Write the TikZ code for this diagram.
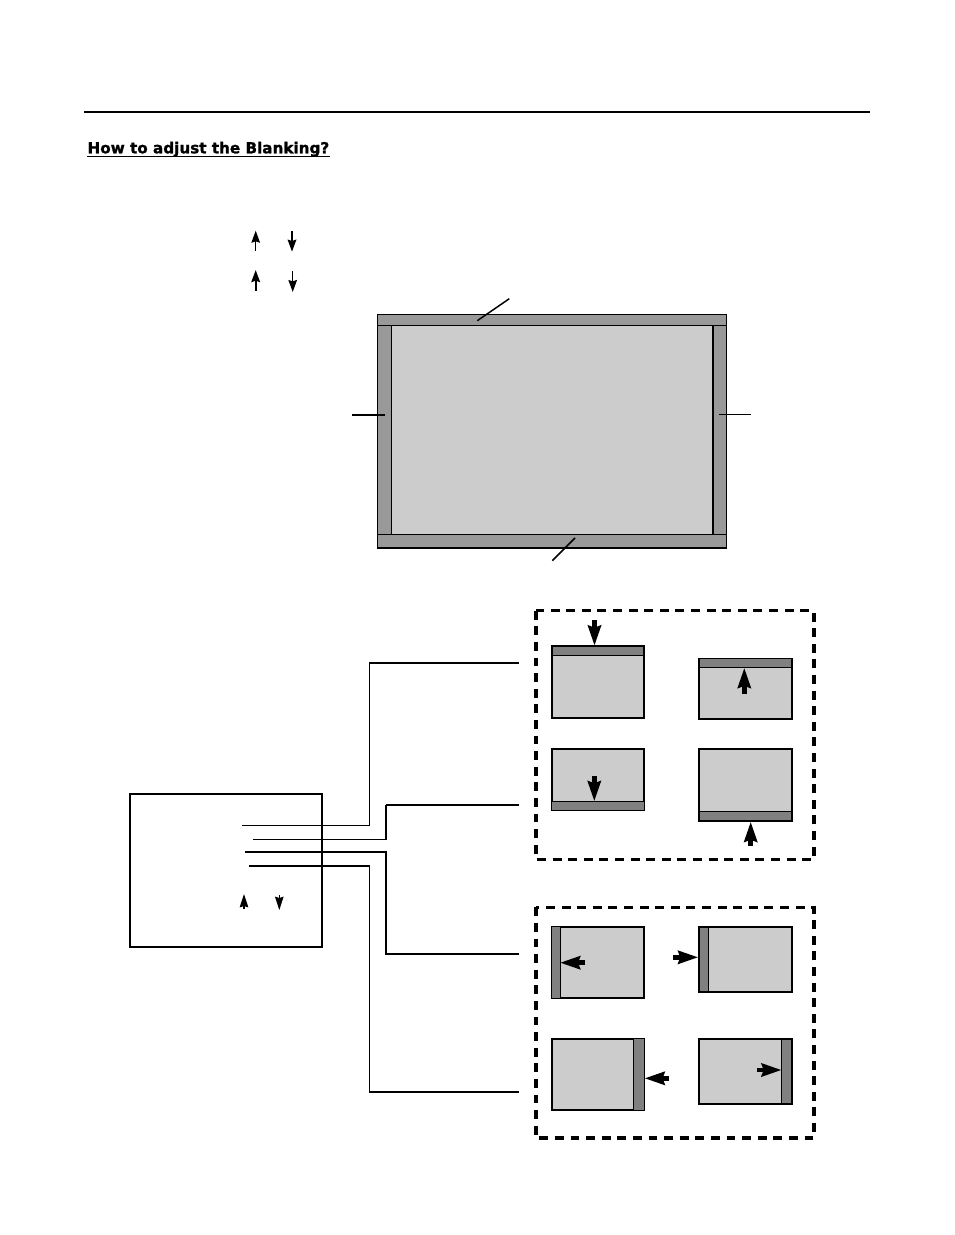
\documentclass[tikz,border=0pt]{standalone}
\usepackage{fontspec}
\usetikzlibrary{arrows.meta}
\newfontfamily\titlefont{DejaVu Sans}[BoldFeatures={FakeBold=1.3}]
\definecolor{screengray}{gray}{0.80}
\definecolor{edgegray}{gray}{0.60}
\definecolor{bargray}{gray}{0.50}
\tikzset{
  screen/.style={fill=screengray,draw=black,line width=1.25pt},
  heavy/.style={line width=1.7pt},
  bar/.style={fill=bargray,draw=black,line width=1.1pt},
  edgebar/.style={fill=edgegray,draw=black,line width=1.1pt},
  leader/.style={draw=black,line width=1.1pt},
  wire/.style={draw=black,line width=1.1pt},
  thickwire/.style={draw=black,line width=1.6pt},
  groupbox/.style={draw=black,line width=2.4pt,dash pattern=on 6.7pt off 5pt},
  blockarrow/.style={-{Stealth[length=15pt,width=9.6pt,inset=1.5pt]},line width=3.4pt},
  keyarrow/.style={-{Stealth[length=9pt,width=6.4pt,inset=1pt]}},
  menuarrow/.style={-{Stealth[length=10pt,width=6.4pt,inset=1pt]},line width=1pt}
}
\begin{document}
\begin{tikzpicture}[x=0.75pt,y=-0.75pt]
\useasboundingbox (0,0) rectangle (954,1235);
% heading
  \draw[line width=1.6pt] (84,112) -- (870,112);
  \node[anchor=base west,inner sep=0pt,font=\titlefont\bfseries\fontsize{11.4}{13}\selectfont] (title) at (87.3,153.3) {How to adjust the Blanking?};
  \draw[line width=1pt] ([yshift=-2.2pt]title.base west) -- ([yshift=-2.2pt]title.base east);
% key arrows
  \draw[keyarrow,line width=1pt] (255.7,250.7) -- (255.7,230.7);
  \draw[keyarrow,line width=1.5pt] (292,231) -- (292,251.7);
  \draw[keyarrow,line width=1.7pt] (255.7,291) -- (255.7,270);
  \draw[keyarrow,line width=0.9pt] (292.7,271) -- (292.7,292);
% large screen
  \filldraw[edgebar] (377.7,314.3) rectangle (726.7,548);
  \filldraw[screen,line width=1.1pt] (391.7,325.3) rectangle (712.7,534.3);
  \draw[line width=1.8pt] (712.7,325.3) -- (712.7,534.3);
  \draw[line width=1.8pt] (377.7,548) -- (726.7,548);
  \draw[line width=1.1pt] (377.7,325.3) -- (726.7,325.3);
  \draw[line width=1.1pt] (377.7,534.3) -- (726.7,534.3);
% leaders
  \coordinate (topa) at (477.3,320.7);
  \coordinate (topb) at (509.3,298.7);
  \coordinate (lefta) at (384.7,415);
  \coordinate (leftb) at (352.3,415);
  \coordinate (righta) at (719,414.3);
  \coordinate (rightb) at (751,414.3);
  \coordinate (bota) at (575,538);
  \coordinate (botb) at (552.3,560.7);
  \draw[leader] (topa) -- (topb);
  \draw[leader] (lefta) -- (leftb);
  \draw[leader] (righta) -- (rightb);
  \draw[leader] (bota) -- (botb);
% menu box
  \draw[line width=1.3pt] (130,794) rectangle (321.7,947.3);
  \draw[menuarrow] (244,909) -- (244,894);
  \draw[menuarrow] (279.3,895) -- (279.3,910);
% wires
  \coordinate (wirea) at (242,825.3);
  \coordinate (wireb) at (253,839.3);
  \coordinate (wirec) at (245,852);
  \coordinate (wired) at (249,865.7);
  \coordinate (topin) at (519,663);
  \coordinate (botin) at (519,805);
  \coordinate (leftin) at (519,954);
  \coordinate (rightin) at (519,1092);
  \coordinate (bendout) at (369.7,860);
  \coordinate (bendin) at (386.3,860);
  \draw[wire] (wirea) -- (wirea -| bendout) -- (bendout |- topin) -- (topin);
  \draw[wire] (wireb) -- (wireb -| bendin) -- (bendin |- botin) -- (botin);
  \draw[thickwire] (wirec) -- (wirec -| bendin) -- (bendin |- leftin) -- (leftin);
  \draw[wire] (wired) -- (wired -| bendout) -- (bendout |- rightin) -- (rightin);
  \draw[thickwire] (wired) -- (wired -| bendout);
  \draw[thickwire] (bendout |- topin) -- (topin);
  \draw[thickwire] (bendin |- botin) -- (botin);
  \draw[thickwire] (wireb -| bendin) -- (bendin |- botin);
  \draw[thickwire] (bendout |- rightin) -- (rightin);
% top and bottom group
  \draw[groupbox] (536,610.7) rectangle (814,859.3);
  \filldraw[screen,heavy] (551.7,645.7) rectangle (644.3,717.7);
  \filldraw[bar] (551.7,645.7) rectangle (644.3,655.3);
  \draw[heavy] (551.7,645.7) rectangle (644.3,717.7);
  \filldraw[screen] (699,658.7) rectangle (791.7,719.3);
  \filldraw[bar] (699,658.7) rectangle (791.7,667.3);
  \filldraw[screen] (551.7,749.3) rectangle (644.3,810.3);
  \filldraw[bar] (551.7,801.3) rectangle (644.3,810.3);
  \filldraw[screen,heavy] (699,749) rectangle (791.7,821);
  \filldraw[bar] (699,811.3) rectangle (791.7,821);
  \draw[heavy] (699,749) rectangle (791.7,821);
  \draw[blockarrow] (594.5,620) -- (594.5,645.7);
  \draw[blockarrow] (744.3,694) -- (744.3,667.8);
  \draw[blockarrow] (594.3,776) -- (594.3,801.3);
  \draw[blockarrow] (750.7,846) -- (750.7,821.7);
% left and right group
  \draw[groupbox] (536,907.3) rectangle (814,1138);
  \filldraw[screen] (551.7,926.7) rectangle (644.3,998.3);
  \filldraw[bar] (551.7,926.7) rectangle (560.7,998.3);
  \filldraw[screen] (699,926.7) rectangle (791.7,992);
  \filldraw[bar] (699,926.7) rectangle (708.3,992);
  \draw[heavy] (699,926.7) rectangle (791.7,992);
  \filldraw[screen] (551.7,1038.7) rectangle (644.3,1110.3);
  \filldraw[bar] (633.7,1038.7) rectangle (644.3,1110.3);
  \filldraw[screen] (699,1038.7) rectangle (791.7,1104);
  \filldraw[bar] (781.3,1038.7) rectangle (791.7,1104);
  \draw[heavy] (699,1038.7) rectangle (791.7,1104);
  \draw[blockarrow] (585,962.7) -- (560,962.7);
  \draw[blockarrow] (673.3,957.3) -- (698.3,957.3);
  \draw[blockarrow] (669,1078.3) -- (644.5,1078.3);
  \draw[blockarrow] (757.3,1070) -- (781.7,1070);
\end{tikzpicture}
\end{document}
